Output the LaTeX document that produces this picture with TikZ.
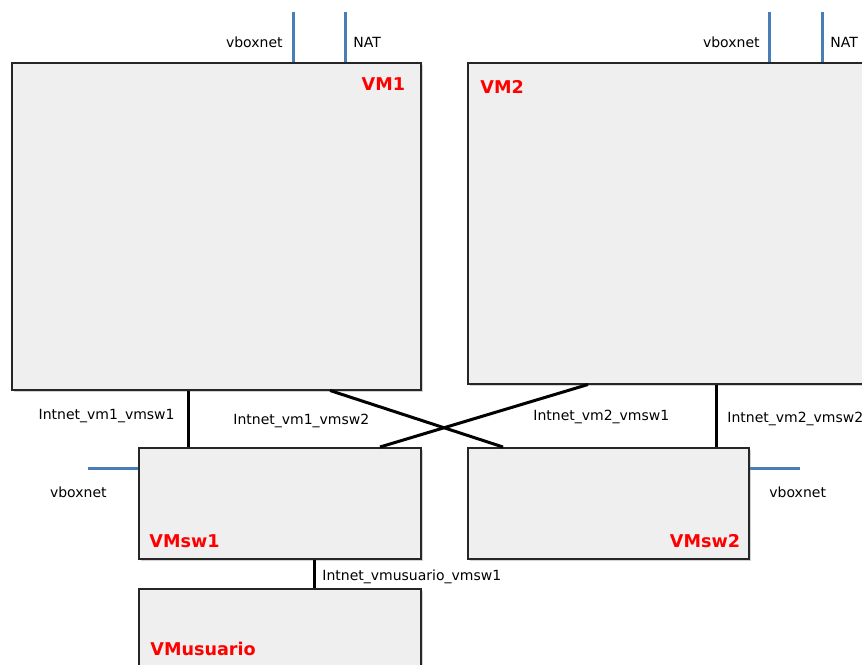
\documentclass[tikz,border=0pt]{standalone}
\usepackage{fontspec}
\setmainfont{DejaVu Sans}
\usepackage{tikz}
\usetikzlibrary{positioning, calc, shadows}
\definecolor{boxgray}{RGB}{239,239,239}
\definecolor{netblue}{RGB}{74,126,187}
\definecolor{vmred}{RGB}{255,0,0}

\begin{document}
\begin{tikzpicture}[
    x=0.5pt, y=-0.5pt,
    vmbox/.style={draw=black!85, line width=0.75pt, fill=boxgray, anchor=north west, inner sep=0pt,
                  drop shadow={shadow xshift=1pt, shadow yshift=-1pt, opacity=0.35}},
    vmname/.style={text=vmred, font=\fontsize{8.8}{10}\selectfont\bfseries, inner sep=0pt},
    netlabel/.style={font=\fontsize{7}{8}\selectfont, inner sep=0pt},
    link/.style={line width=1.5pt, black},
    net/.style={line width=1.5pt, netblue}
]
\clip (0,0) rectangle (862,664);

% virtual machines
\node[vmbox, minimum width=204.5pt, minimum height=163.5pt] (vm1) at (11,62)  {};
\node[vmbox, minimum width=204pt,   minimum height=160.5pt] (vm2) at (467,62) {};
\node[vmbox, minimum width=141pt,   minimum height=55.5pt]  (sw1) at (138,447) {};
\node[vmbox, minimum width=140.5pt, minimum height=55.5pt]  (sw2) at (467,447) {};
\node[vmbox, minimum width=141pt,   minimum height=60pt]    (usr) at (138,588) {};

\node[vmname, below left=7.5pt and 8pt of vm1.north east]  {VM1};
\node[vmname, below right=9pt and 6.5pt of vm2.north west] {VM2};
\node[vmname, above right=5.5pt and 5.5pt of sw1.south west] {VMsw1};
\node[vmname, above left=5.5pt and 4.5pt of sw2.south east]  {VMsw2};
\node[vmname, below right=27pt and 6pt of usr.north west]    {VMusuario};

% external networks
\coordinate (vm1vb)  at (293,12);
\coordinate (vm1nat) at (345,12);
\coordinate (vm2vb)  at (769,12);
\coordinate (vm2nat) at (822,12);
\coordinate (sw1vb)  at (88,468);
\coordinate (sw2vb)  at (800,468);
\draw[net] (vm1vb)  -- (vm1vb |- vm1.north);
\draw[net] (vm1nat) -- (vm1nat |- vm1.north);
\draw[net] (vm2vb)  -- (vm2vb |- vm2.north);
\draw[net] (vm2nat) -- (vm2nat |- vm2.north);
\draw[net] (sw1vb)  -- (sw1vb -| sw1.west);
\draw[net] (sw2vb)  -- (sw2vb -| sw2.east);

\node[netlabel, anchor=base east] (vm1vblbl)  at (283,47) {vboxnet};
\node[netlabel, anchor=base west] (vm1natlbl) at (353,47) {NAT};
\node[netlabel, anchor=base east] (vm2vblbl)  at (760,47) {vboxnet};
\node[netlabel, anchor=base west] (vm2natlbl) at (830,47) {NAT};
\node[netlabel, anchor=base east] (sw1vblbl)  at (107,497) {vboxnet};
\node[netlabel, anchor=base west] (sw2vblbl)  at (769,497) {vboxnet};

% internal networks
\draw[link] ($(vm1.south west)+(177,0)$) coordinate (l1) -- (l1 |- sw1.north);
\draw[link] ($(vm1.south west)+(319,0)$) -- ($(sw2.north west)+(36,0)$);
\draw[link] ($(vm2.south west)+(121,0)$) -- ($(sw1.north west)+(242,0)$);
\draw[link] ($(vm2.south west)+(249,0)$) coordinate (l4) -- (l4 |- sw2.north);
\draw[link] ($(sw1.south west)+(176,0)$) coordinate (l5) -- (l5 |- usr.north);

\node[netlabel, anchor=base east] (l1lbl) at (175,419) {Intnet\_vm1\_vmsw1};
\node[netlabel, anchor=base west] (l2lbl) at (233,424) {Intnet\_vm1\_vmsw2};
\node[netlabel, anchor=base west] (l3lbl) at (533,420) {Intnet\_vm2\_vmsw1};
\node[netlabel, anchor=base west] (l4lbl) at (727,422) {Intnet\_vm2\_vmsw2};
\node[netlabel, anchor=base west] (l5lbl) at (322,580) {Intnet\_vmusuario\_vmsw1};
\end{tikzpicture}
\end{document}
